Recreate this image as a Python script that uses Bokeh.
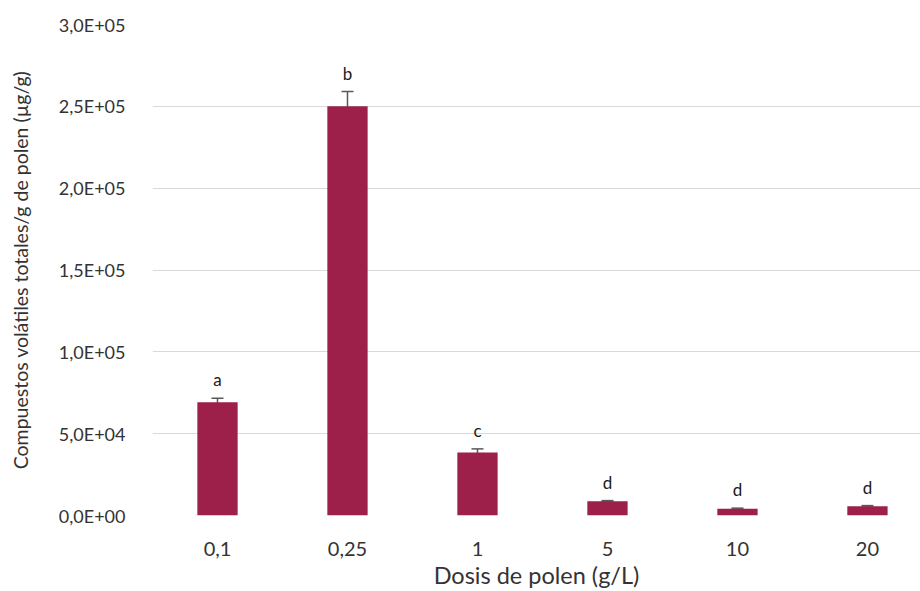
from bokeh.plotting import figure
from bokeh.models import ColumnDataSource, FixedTicker, Whisker, Range1d, TeeHead
from bokeh.core.properties import value
from bokeh.embed import file_html
from bokeh.resources import INLINE

doses = ["0,1", "0,25", "1", "5", "10", "20"]
means = [69200, 250000, 38500, 8700, 4100, 5600]
errors = [2500, 9000, 2200, 400, 400, 450]
letters = ["a", "b", "c", "d", "d", "d"]
y_ticks = [0, 50000, 100000, 150000, 200000, 250000, 300000]
y_tick_labels = ["0,0E+00", "5,0E+04", "1,0E+05", "1,5E+05", "2,0E+05", "2,5E+05", "3,0E+05"]

FONT = "Lato"
BAR = "#9C2049"

xs = [i + 0.5 for i in range(len(doses))]
src = ColumnDataSource(dict(
    x=xs, top=means,
    upper=[m + e for m, e in zip(means, errors)],
    lower=[m - e for m, e in zip(means, errors)],
    letter=letters,
))

p = figure(width=920, height=591, output_backend="svg", toolbar_location=None,
           x_range=Range1d(0, 5.908), y_range=Range1d(0, 300000),
           min_border_left=152, min_border_right=0, min_border_top=24, min_border_bottom=76)
p.outline_line_color = None
p.background_fill_color = "white"
p.border_fill_color = "white"

p.vbar(x="x", top="top", width=0.31, bottom=0, source=src, fill_color=BAR, line_color=None)

w = Whisker(base="x", upper="upper", lower="lower", source=src, line_color="#595959", line_width=1.5,
            upper_head=TeeHead(size=12, line_color="#595959", line_width=1.5),
            lower_head=TeeHead(size=12, line_color="#595959", line_width=1.5))
p.add_layout(w)

p.text(x="x", y="upper", text="letter", source=src, text_align="center", text_baseline="bottom",
       y_offset=-8, text_font=value(FONT), text_font_size="17px", text_color="#1a1a1a")

p.xgrid.grid_line_color = None
p.ygrid.grid_line_color = "#D9D9D9"
p.ygrid.grid_line_width = 1.2
p.yaxis.ticker = FixedTicker(ticks=y_ticks)
p.ygrid.ticker = FixedTicker(ticks=y_ticks)
p.yaxis.major_label_overrides = {t: l for t, l in zip(y_ticks, y_tick_labels)}
p.xaxis.ticker = FixedTicker(ticks=xs)
p.xaxis.major_label_overrides = {x: d for x, d in zip(xs, doses)}

for ax in (p.xaxis, p.yaxis):
    ax.axis_line_color = None
    ax.major_tick_line_color = None
    ax.minor_tick_line_color = None
    ax.major_label_text_font = FONT
    ax.major_label_text_color = "#333333"
    ax.axis_label_text_font = FONT
    ax.axis_label_text_color = "#333333"
    ax.axis_label_text_font_style = "normal"

p.yaxis.major_label_text_font_size = "18px"
p.xaxis.major_label_text_font_size = "20px"
p.yaxis.axis_label = "Compuestos volátiles totales/g de polen (µg/g)"
p.xaxis.axis_label = "Dosis de polen (g/L)"
p.yaxis.axis_label_text_font_size = "19.5px"
p.xaxis.axis_label_text_font_size = "23.5px"
p.yaxis.major_label_standoff = 21
p.yaxis.axis_label_standoff = 24
p.xaxis.major_label_standoff = 20
p.xaxis.axis_label_standoff = 2

open("out.html", "w").write(file_html(p, INLINE))
